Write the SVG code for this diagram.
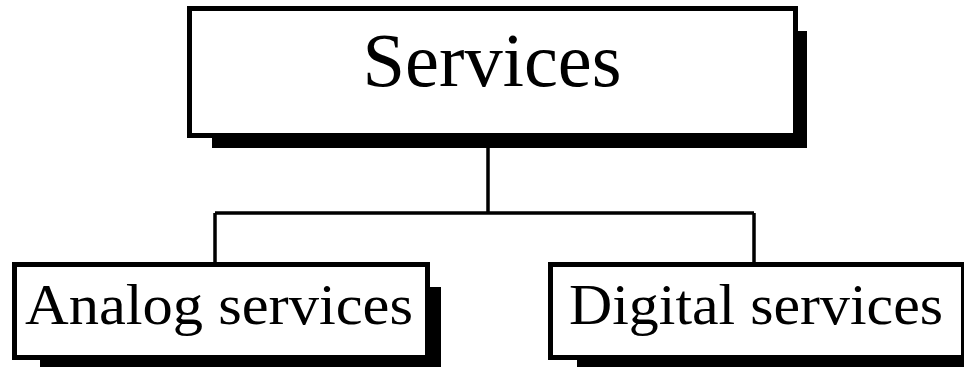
<svg xmlns="http://www.w3.org/2000/svg" width="964" height="367" viewBox="0 0 964 367">
<style>
.shadow{fill:#000}
.box{fill:#fff;stroke:#000;stroke-width:5}
.lbl{font-family:"Liberation Serif","Times New Roman",serif;fill:#000;text-anchor:middle}
.conn{fill:none;stroke:#000;stroke-width:3.5}
</style>
<rect width="964" height="367" fill="#fff"/>
<g id="connectors">
<path class="conn" d="M488,148 V213 M215,213 H754 M215,213 V262 M754,213 V262"/>
</g>
<g id="services">
<rect class="shadow" x="212" y="31" width="595" height="117"/>
<rect class="box" x="189.5" y="8.5" width="606" height="127"/>
<text class="lbl" x="492" y="86" font-size="77" textLength="259" lengthAdjust="spacingAndGlyphs">Services</text>
</g>
<g id="analog">
<rect class="shadow" x="40" y="287" width="401" height="80"/>
<rect class="box" x="14.5" y="264.5" width="413" height="93"/>
<text class="lbl" x="219" y="324" font-size="57" textLength="388" lengthAdjust="spacingAndGlyphs">Analog services</text>
</g>
<g id="digital">
<rect class="shadow" x="577" y="287" width="401" height="80"/>
<rect class="box" x="550.5" y="264.5" width="413" height="93"/>
<text class="lbl" x="756" y="324" font-size="57" textLength="374" lengthAdjust="spacingAndGlyphs">Digital services</text>
</g>
</svg>
